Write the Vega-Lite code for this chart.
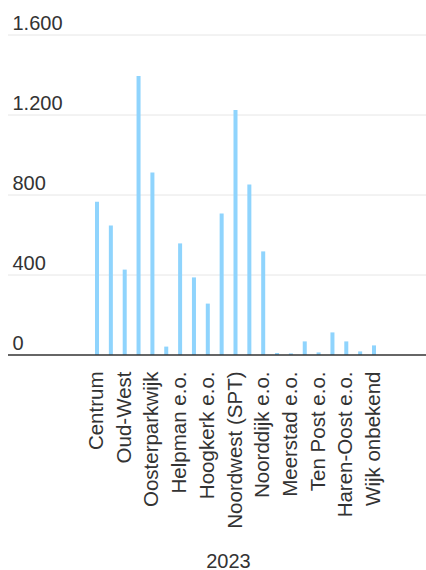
{
  "$schema": "https://vega.github.io/schema/vega-lite/v6.json",
  "autosize": {"type": "none"},
  "width": 418,
  "height": 320,
  "padding": {"left": 8, "top": 35, "right": 0, "bottom": 215},
  "background": "white",
  "config": {
    "view": {"stroke": null},
    "font": "Liberation Sans"
  },
  "datasets": {
    "wijken": [
      {"wijk": "Centrum", "aantal": 766},
      {"wijk": "Oud-Zuid", "aantal": 648},
      {"wijk": "Oud-West", "aantal": 427},
      {"wijk": "Oud-Noord", "aantal": 1395},
      {"wijk": "Oosterparkwijk", "aantal": 913},
      {"wijk": "Zuidoost", "aantal": 42},
      {"wijk": "Helpman e.o.", "aantal": 558},
      {"wijk": "Zuidwest", "aantal": 388},
      {"wijk": "Hoogkerk e.o.", "aantal": 257},
      {"wijk": "Vinkhuizen e.o.", "aantal": 707},
      {"wijk": "Noordwest (SPT)", "aantal": 1225},
      {"wijk": "Oost", "aantal": 853},
      {"wijk": "Noorddijk e.o.", "aantal": 518},
      {"wijk": "Ten Boer e.o.", "aantal": 10},
      {"wijk": "Meerstad e.o.", "aantal": 8},
      {"wijk": "Thesinge e.o.", "aantal": 68},
      {"wijk": "Ten Post e.o.", "aantal": 13},
      {"wijk": "Haren e.o.", "aantal": 113},
      {"wijk": "Haren-Oost e.o.", "aantal": 68},
      {"wijk": "Glimmen e.o.", "aantal": 18},
      {"wijk": "Wijk onbekend", "aantal": 48}
    ],
    "grid": [
      {"waarde": 400},
      {"waarde": 800},
      {"waarde": 1200},
      {"waarde": 1600}
    ]
  },
  "layer": [
    {
      "data": {"name": "grid"},
      "mark": {"type": "rule", "color": "#e6e6e6", "strokeWidth": 1},
      "encoding": {"y": {"field": "waarde", "type": "quantitative"}}
    },
    {
      "data": {"name": "wijken"},
      "mark": {"type": "bar", "color": "#8fd4fd"},
      "encoding": {
        "x": {
          "field": "wijk",
          "type": "nominal",
          "sort": null,
          "scale": {"range": [87, 368], "paddingInner": 0.71, "paddingOuter": 0},
          "axis": {
            "title": "2023",
            "titleFontSize": 20,
            "titleFontWeight": "normal",
            "titleColor": "#333333",
            "titleX": 220,
            "titleY": 212,
            "titleAlign": "center",
            "titleBaseline": "alphabetic",
            "labelAngle": -90,
            "labelAlign": "right",
            "labelBaseline": "middle",
            "labelFontSize": 20.5,
            "labelColor": "#333333",
            "labelPadding": 16,
            "labelOverlap": "parity",
            "labelLimit": 300,
            "ticks": false,
            "domain": false,
            "grid": false
          }
        },
        "y": {
          "field": "aantal",
          "type": "quantitative",
          "scale": {"domain": [0, 1600], "nice": false},
          "axis": {
            "title": null,
            "values": [0, 400, 800, 1200, 1600],
            "labelExpr": "replace(format(datum.value, ',d'), ',', '.')",
            "labelAlign": "left",
            "labelBaseline": "alphabetic",
            "labelPadding": -4,
            "labelOffset": -6,
            "labelFontSize": 20,
            "labelColor": "#333333",
            "ticks": false,
            "domain": false,
            "grid": false
          }
        }
      }
    },
    {
      "data": {"values": [{}]},
      "mark": {"type": "rule", "color": "#333333", "strokeWidth": 1.5},
      "encoding": {"y": {"datum": 0, "type": "quantitative"}}
    }
  ]
}
